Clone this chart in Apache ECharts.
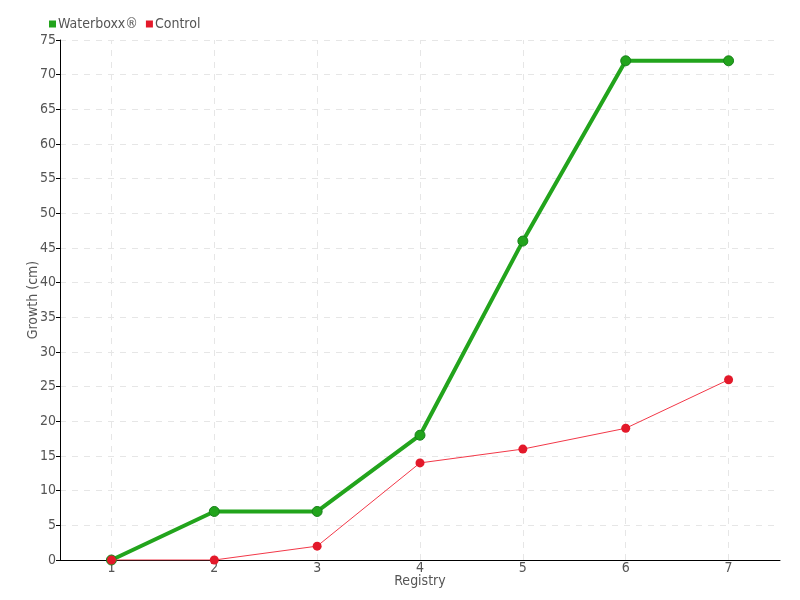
<!DOCTYPE html>
<html><head><meta charset="utf-8">
<script src="https://cdn.jsdelivr.net/npm/echarts@6/dist/echarts.min.js"></script>
<style>html,body{margin:0;padding:0;background:#fff}#c{width:800px;height:600px}</style>
</head><body><div id="c"></div>
<script>
var categories = ['1','2','3','4','5','6','7'];
var waterboxx = [0, 7, 7, 18, 46, 72, 72];
var control = [0, 0, 2, 14, 16, 19, 26];
var seriesNames = ['Waterboxx®', 'Control'];

var font = '"DejaVu Sans Condensed","DejaVu Sans",sans-serif';
var chart = echarts.init(document.getElementById('c'));
chart.setOption({
  animation: false,
  textStyle: {fontFamily: font, color: '#555'},
  legend: {
    left: 44, top: 12, itemWidth: 7, itemHeight: 7, itemGap: 8,
    icon: 'rect',
    itemStyle: {borderWidth: 0},
    textStyle: {fontFamily: font, fontSize: 14, color: '#555', padding: [0,0,0,-3]},
    data: seriesNames
  },
  grid: {left: 60, right: 20, top: 40, bottom: 40},
  xAxis: {
    type: 'category', data: categories, boundaryGap: true,
    name: 'Registry', nameLocation: 'middle', nameGap: 14, nameMoveOverlap: false,
    nameTextStyle: {fontFamily: font, fontSize: 14, color: '#555'},
    axisLine: {lineStyle: {color: '#000', width: 1}},
    axisTick: {alignWithLabel: true, length: 5, lineStyle: {color: '#555'}},
    axisLabel: {fontFamily: font, fontSize: 14, color: '#555', margin: 1},
    splitLine: {show: false}
  },
  yAxis: {
    type: 'value', min: 0, max: 75, interval: 5,
    name: 'Growth (cm)', nameLocation: 'middle', nameGap: 20, nameRotate: 90, nameMoveOverlap: false,
    nameTextStyle: {fontFamily: font, fontSize: 14, color: '#555'},
    axisLine: {show: true, lineStyle: {color: '#000', width: 1}},
    axisTick: {show: true, length: 4, lineStyle: {color: '#000'}},
    axisLabel: {fontFamily: font, fontSize: 14, color: '#555', margin: 4},
    splitLine: {show: true, lineStyle: {color: '#e6e6e6', type: [6,6]}}
  },
  series: [
    {
      name: seriesNames[0], type: 'line', data: waterboxx,
      symbol: 'circle', symbolSize: 10,
      lineStyle: {color: '#22a41c', width: 4},
      itemStyle: {color: '#22a41c', borderColor: '#17801a', borderWidth: 1},
      markLine: {
        silent: true, z: 1, symbol: ['none','none'], label: {show: false},
        lineStyle: {color: '#e6e6e6', type: [6,6], width: 1},
        emphasis: {disabled: true},
        data: categories.map(function (c) { return {xAxis: c}; })
      },
      z: 3
    },
    {
      name: seriesNames[1], type: 'line', data: control,
      symbol: 'circle', symbolSize: 9,
      lineStyle: {color: '#f23848', width: 1},
      itemStyle: {color: '#e3192a', borderColor: '#e3192a', borderWidth: 0},
      z: 4
    }
  ]
});
</script></body></html>
